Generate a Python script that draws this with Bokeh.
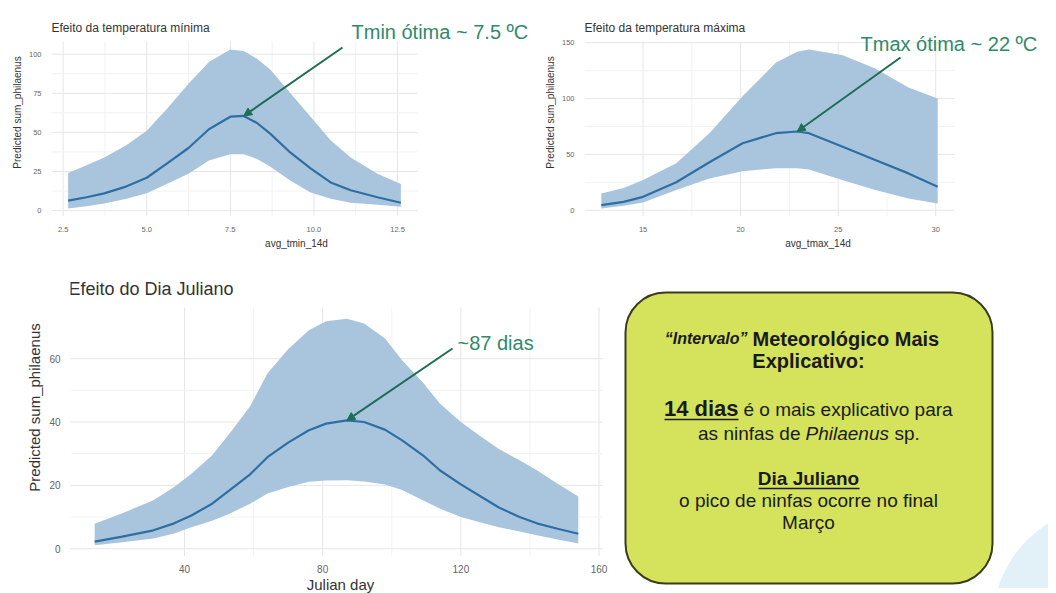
import numpy as np
from bokeh.plotting import figure
from bokeh.layouts import row, column
from bokeh.models import Range1d, FixedTicker, Arrow, NormalHead, Label
from bokeh.embed import file_html
from bokeh.resources import INLINE
from bokeh.core.properties import value

# ---------------- data ----------------
# Efeito da temperatura minima
tmin_x = [2.65, 3.2, 3.73, 4.4, 5.0, 5.6, 6.25, 6.86, 7.5, 7.9, 8.3, 8.7, 9.3, 9.9, 10.5, 11.1, 11.9, 12.6]
tmin_fit = [6.4, 8.5, 11, 15.5, 21, 30, 40, 52, 60, 60.5, 56, 49, 37, 27, 18, 13, 8.5, 5]
tmin_lo = [1.3, 2.8, 4.5, 7.5, 11, 17, 23.5, 32, 36, 36, 33, 28, 19, 11.5, 7.5, 5, 3.8, 2.5]
tmin_hi = [24, 29, 34, 42, 51, 65, 81, 95, 103, 102, 97, 90, 75, 60, 45, 34, 23.5, 17]
tmin_xticks = [2.5, 5.0, 7.5, 10.0, 12.5]
tmin_xtick_labels = ["2.5", "5.0", "7.5", "10.0", "12.5"]
tmin_yticks = [0, 25, 50, 75, 100]

# Efeito da temperatura maxima
tmax_x = [12.86, 14, 15, 16.7, 18.4, 20.1, 21.8, 22.9, 23.5, 25.2, 26.9, 28.6, 30.1]
tmax_fit = [4.5, 7.5, 12, 25, 43, 60, 69, 70.5, 69, 57, 45, 33, 21]
tmax_lo = [1.5, 4, 7, 18, 28.5, 35, 37.5, 37.5, 36.5, 27, 18, 10.5, 6]
tmax_hi = [15, 20, 27, 42, 69, 102, 132, 142, 144, 139, 127, 110, 100]
tmax_xticks = [15, 20, 25, 30]
tmax_yticks = [0, 50, 100, 150]

# Efeito do Dia Juliano
jd_x = [14, 22, 31, 37, 42, 48, 53, 59, 64, 70, 76, 81, 87, 92, 98, 103, 109, 114, 120, 126, 131, 137, 142, 148, 154]
jd_fit = [2.2, 3.8, 5.8, 8, 10.5, 14.2, 18.4, 23.5, 28.9, 33.5, 37.4, 39.5, 40.5, 40, 37.6, 34.2, 29.5, 24.7, 20.3, 16.3, 13, 10, 8, 6.3, 4.7]
jd_lo = [1.1, 2, 3.2, 4.8, 6.8, 8.8, 11, 14.2, 17.4, 19.5, 21.1, 21.5, 21.6, 21.2, 20.3, 18.5, 15.3, 12.6, 10, 8.2, 6.8, 5.4, 4.2, 2.9, 1.6]
jd_hi = [7.9, 11.2, 15.3, 19.5, 23.7, 29.5, 36.3, 45, 55.3, 63, 69, 71.8, 72.6, 71.1, 66.5, 59.5, 52.5, 45.8, 40, 35.3, 31.5, 27.9, 24.8, 20.5, 16.5]
jd_xticks = [40, 80, 120, 160]
jd_yticks = [0, 20, 40, 60]

# ---------------- styles ----------------
BAND = "#a9c5dd"
LINE = "#2e6fa3"
ANN = "#2f8a6a"
ARROW = "#1d6e55"
FONT = "Liberation Sans"
M = 8  # page margin


def expand(vals, f=0.05):
    lo, hi = min(vals), max(vals)
    d = (hi - lo) * f
    return lo - d, hi + d


def minor_between(ticks):
    return [(a + b) / 2 for a, b in zip(ticks[:-1], ticks[1:])]


def effect_plot(x, fit, lo, hi, xticks, yticks, xlabel, ylabel,
                geom, tick_size, label_size, xlabels=None, xstand=(4, 3)):
    """geom = (ox, oy, W, H, fl, fr, ft, fb): figure origin/size on the page and
    the page rectangle onto which the expanded data ranges are mapped."""
    ox, oy, W, H, fl, fr, ft, fb = geom
    x0, x1 = expand(x)
    y0, y1 = expand(lo + hi)
    sx = (x1 - x0) / (fr - fl)
    sy = (y1 - y0) / (fb - ft)
    # frame reaches the top and right edge of the figure so that texts are not clipped
    xr = Range1d(x0, x1 + (ox + W - fr) * sx)
    yr = Range1d(y0, y1 + (ft - oy) * sy)

    def at(px, py):
        return x0 + (px - fl) * sx, y0 + (fb - py) * sy

    p = figure(frame_width=ox + W - fl, frame_height=fb - oy,
               x_range=xr, y_range=yr, title=None,
               output_backend="svg", toolbar_location=None,
               min_border_left=fl - ox, min_border_right=0,
               min_border_top=0, min_border_bottom=oy + H - fb,
               background_fill_color="white", border_fill_color="white")
    p.outline_line_color = None
    p.grid.grid_line_color = None

    # panel grid (major + minor) limited to the data panel
    vx = list(xticks) + minor_between(xticks)
    hy = list(yticks) + minor_between(yticks)
    vcol = ["#e6e6e6"] * len(xticks) + ["#f2f2f2"] * (len(xticks) - 1)
    hcol = ["#e6e6e6"] * len(yticks) + ["#f2f2f2"] * (len(yticks) - 1)
    p.segment(x0=vx, x1=vx, y0=[y0] * len(vx), y1=[y1] * len(vx), line_color=vcol, line_width=1)
    p.segment(x0=[x0] * len(hy), x1=[x1] * len(hy), y0=hy, y1=hy, line_color=hcol, line_width=1)

    p.varea(x=x, y1=lo, y2=hi, fill_color=BAND, fill_alpha=1.0)
    p.line(x, fit, line_color=LINE, line_width=2.2)

    p.xaxis.ticker = FixedTicker(ticks=xticks)
    p.yaxis.ticker = FixedTicker(ticks=yticks)
    if xlabels:
        p.xaxis.major_label_overrides = {t: s for t, s in zip(xticks, xlabels)}
    for ax in (p.xaxis, p.yaxis):
        ax.axis_line_color = None
        ax.major_tick_line_color = None
        ax.minor_tick_line_color = None
        ax.major_label_text_font = FONT
        ax.major_label_text_font_size = f"{tick_size}px"
        ax.major_label_text_color = "#666666"
        ax.major_label_standoff = 4
        ax.axis_label_text_font = FONT
        ax.axis_label_text_font_size = f"{label_size}px"
        ax.axis_label_text_font_style = "normal"
        ax.axis_label_text_color = "#333333"
        ax.axis_label_standoff = 3
    p.xaxis.major_label_standoff = xstand[0]
    p.xaxis.axis_label_standoff = xstand[1]
    p.xaxis.axis_label = xlabel
    p.yaxis.axis_label = ylabel
    return p, at


def add_title(p, at, px, py, text, size):
    x, y = at(px, py)
    p.add_layout(Label(x=x, y=y, text=text, text_baseline="middle", text_font=FONT,
                       text_font_size=f"{size}px", text_color="#333333"))


def add_note(p, at, text_pos, arrow_start, tip, text):
    x, y = at(*text_pos)
    p.add_layout(Label(x=x, y=y, text=text, text_baseline="middle",
                       text_font=FONT, text_font_size="20px", text_color=ANN))
    xs, ys = at(*arrow_start)
    p.add_layout(Arrow(x_start=xs, y_start=ys, x_end=tip[0], y_end=tip[1],
                       line_color=ARROW, line_width=2,
                       end=NormalHead(size=8, fill_color=ARROW, line_color=ARROW)))


# ---------- top left ----------
p1, at1 = effect_plot(tmin_x, tmin_fit, tmin_lo, tmin_hi, tmin_xticks, tmin_yticks,
                      "avg_tmin_14d", "Predicted sum_philaenus",
                      (8, 8, 532, 250, 50, 416, 41, 216), 7.5, 10,
                      xlabels=tmin_xtick_labels)
add_title(p1, at1, 50, 27, "Efeito da temperatura mínima", 12)
i1 = int(np.argmax(tmin_fit))
add_note(p1, at1, (350, 31), (341, 47), (tmin_x[i1], tmin_fit[i1]), "Tmin ótima ~ 7.5 ºC")

# ---------- top right ----------
p2, at2 = effect_plot(tmax_x, tmax_fit, tmax_lo, tmax_hi, tmax_xticks, tmax_yticks,
                      "avg_tmax_14d", "Predicted sum_philaenus",
                      (540, 8, 508, 250, 581, 951, 41, 216), 7.5, 10)
add_title(p2, at2, 581, 27, "Efeito da temperatura máxima", 12)
i2 = int(np.argmax(tmax_fit))
add_note(p2, at2, (857, 43), (897, 57), (tmax_x[i2], tmax_fit[i2]), "Tmax ótima ~ 22 ºC")

# ---------- bottom left ----------
p3, at3 = effect_plot(jd_x, jd_fit, jd_lo, jd_hi, jd_xticks, jd_yticks,
                      "Julian day", "Predicted sum_philaenus",
                      (8, 258, 602, 330, 70, 602, 307, 556), 10, 15, xstand=(2, 0))
add_title(p3, at3, 68, 288, "Efeito do Dia Juliano", 18)
i3 = int(np.argmax(jd_fit))
add_note(p3, at3, (457, 342), (452, 348), (jd_x[i3], jd_fit[i3]), "~87 dias")

# ---------- bottom right: text panel ----------
PW, PH = 438, 330
p4 = figure(frame_width=PW, frame_height=PH, x_range=Range1d(0, PW), y_range=Range1d(PH, 0),
            output_backend="svg", toolbar_location=None, title=None,
            x_axis_location=None, y_axis_location=None,
            min_border_left=0, min_border_right=0, min_border_top=0, min_border_bottom=0,
            background_fill_color="white", border_fill_color="white")
p4.grid.grid_line_color = None
p4.outline_line_color = None

p4.circle(x=[500], y=[365], radius=118, fill_color="#e2f1f8", line_color=None)
p4.quad(left=[15], right=[382], top=[34], bottom=[325], border_radius=40,
        fill_color="#d4e35b", line_color="#3b3b1e", line_width=2)


def txt(x, y, text, size, style="normal", align="center"):
    p4.text(x=[x], y=[y], text=[text], text_align=align, text_baseline="middle",
            text_font=value(FONT), text_font_size=f"{size}px", text_font_style=style,
            text_color="#1a1a1a")


txt(137, 80, "\u201cIntervalo\u201d", 16, "bold italic", "right")
txt(142, 80, "Meteorológico Mais", 20, "bold", "left")
txt(198, 102, "Explicativo:", 20, "bold")
txt(128, 150, "14 dias", 22, "bold", "right")
txt(133, 151, "é o mais explicativo para", 19, "normal", "left")
p4.line([54, 128], [161, 161], line_color="#1a1a1a", line_width=1.5)
txt(190, 175, "as ninfas de", 19, "normal", "right")
txt(195, 175, "Philaenus", 19, "italic", "left")
txt(284, 175, "sp.", 19, "normal", "left")
txt(198, 220, "Dia Juliano", 19, "bold")
p4.line([148, 249], [230, 230], line_color="#1a1a1a", line_width=1.5)
txt(198, 242, "o pico de ninfas ocorre no final", 19)
txt(198, 264, "Março", 19)

layout = column(row(p1, p2), row(p3, p4), margin=(M, 0, 0, M))
open("out.html", "w").write(file_html(layout, INLINE))
